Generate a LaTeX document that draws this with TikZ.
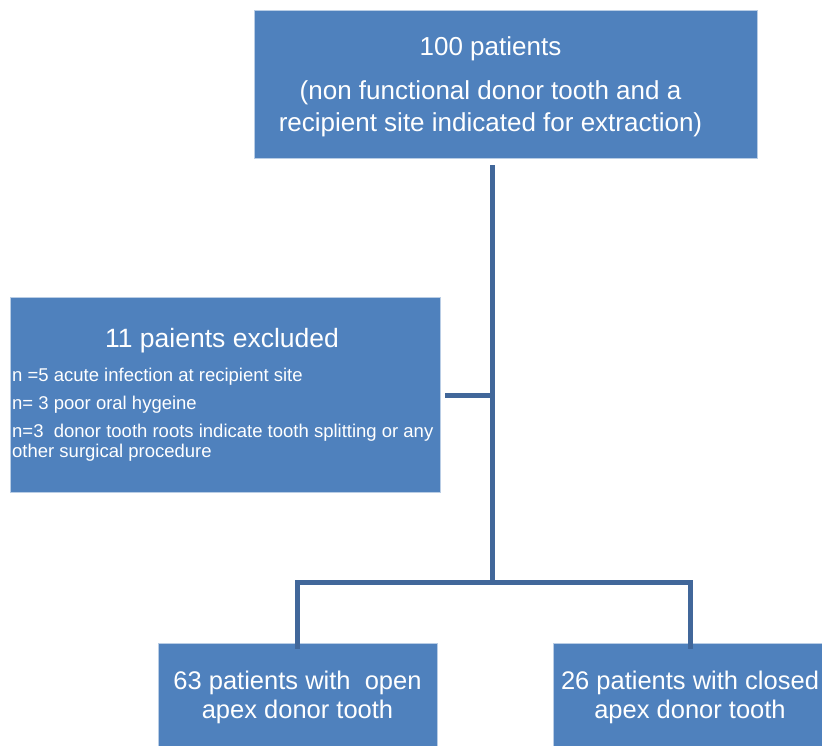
\documentclass[tikz,border=0pt]{standalone}
\usepackage{fontspec}
\setmainfont{Liberation Sans}
\definecolor{boxblue}{HTML}{4F81BD}
\definecolor{boxedge}{HTML}{B9CDE5}
\definecolor{linkblue}{HTML}{41679A}
\tikzset{
  flowbox/.style={draw=boxedge, line width=0.8pt, fill=boxblue, text=white, inner sep=0pt},
  boxtext/.style={text=white, inner sep=0pt},
  link/.style={draw=linkblue, line width=5pt}
}
\begin{document}
\begin{tikzpicture}[x=1pt, y=-1pt]
    \useasboundingbox (0, 0) rectangle (822, 746);
    \node [flowbox, minimum width=503, minimum height=148] (total) at (505.5, 84) {};
    \node [boxtext, align=center, font=\fontsize{26}{32}\selectfont] (totaltext) at (490.5, 87)
      {100 patients\\[12pt](non functional donor tooth and a\\recipient site indicated for extraction)};
    \node [flowbox, minimum width=430, minimum height=195] (excl) at (225, 394.5) {};
    \node [boxtext, font=\fontsize{26.5}{30}\selectfont] (exclhead) at (222, 341) {11 paients excluded};
    \node [boxtext, anchor=north west, align=left, font=\fontsize{18.5}{20}\selectfont] (exclnote) at (12, 368)
      {n =5 acute infection at recipient site\\[8pt]n= 3 poor oral hygeine\\[8pt]n=3\ \ donor tooth roots indicate tooth splitting or any\\other surgical procedure};
    \node [flowbox, minimum width=279, minimum height=108, align=center,
      font=\fontsize{25.5}{29}\selectfont] (openapex) at (297.5, 697)
      {63 patients with\ \ open\\apex donor tooth};
    \node [flowbox, minimum width=274, minimum height=108, align=center,
      font=\fontsize{25.5}{29}\selectfont] (closedapex) at (690, 697)
      {26 patients with closed\\apex donor tooth};
    \coordinate (split) at (492, 395);
    \coordinate (hub) at (492, 582);
    \draw [link] ([yshift=-7]total.south -| hub) -- (hub);
    \draw [link] ([xshift=5]excl.east |- split) -- (split);
    \draw [link] ([yshift=-6]openapex.north) |- (hub) -| ([yshift=-6]closedapex.north);
\end{tikzpicture}
\end{document}
